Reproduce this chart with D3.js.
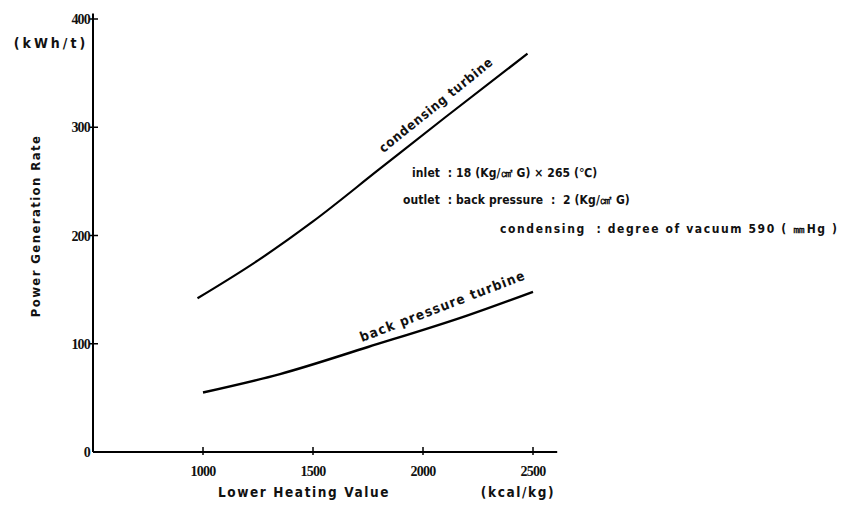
<!DOCTYPE html>
<html><head><meta charset="utf-8">
<script src="https://cdn.jsdelivr.net/npm/d3@7"></script>
<style>
body{margin:0;background:#fff;}
svg text{font-family:"DejaVu Sans Condensed","DejaVu Sans",sans-serif;font-stretch:condensed;font-weight:bold;fill:#111;white-space:pre;}
.num{font-family:"Liberation Serif","DejaVu Serif",serif;font-weight:bold;}
</style></head>
<body><svg id="c" width="844" height="506"></svg>
<script>
const xTicks = [1000, 1500, 2000, 2500];
const yTicks = [0, 100, 200, 300, 400];
const condensingX = [975, 1250, 1500, 1800, 2100, 2475];
const condensingY = [142, 177, 213, 261, 309, 368];
const backX = [1000, 1350, 1750, 2200, 2500];
const backY = [55, 72, 97, 126, 148];
const notes = [
  "inlet  : 18 (Kg/㎠ G) × 265 (℃)",
  "outlet  : back pressure  :  2 (Kg/㎠ G)",
  "condensing  : degree of vacuum 590 ( ㎜Hg )"
];

const svg = d3.select("#c");
const x = d3.scaleLinear().domain([500, 2600]).range([93, 555]);
const y = d3.scaleLinear().domain([0, 400]).range([452, 19]);

// axes
svg.append("line").attr("x1", x(500)).attr("x2", x(2610)).attr("y1", y(0)).attr("y2", y(0))
  .attr("stroke", "#000").attr("stroke-width", 2);
svg.append("line").attr("x1", x(500)).attr("x2", x(500)).attr("y1", y(0)).attr("y2", y(405))
  .attr("stroke", "#000").attr("stroke-width", 2);

// y ticks
svg.selectAll(".yt").data(yTicks.filter(d => d > 0)).enter().append("line")
  .attr("x1", x(500) - 4).attr("x2", x(500) + 5).attr("y1", d => y(d)).attr("y2", d => y(d))
  .attr("stroke", "#000").attr("stroke-width", 1.5);
svg.selectAll(".yl").data(yTicks).enter().append("text").attr("class", "num")
  .attr("x", x(500) - 3).attr("y", d => y(d) + 5).attr("text-anchor", "end")
  .attr("font-size", 14).attr("letter-spacing", -0.8).text(d => d);

// x ticks
svg.selectAll(".xt").data(xTicks).enter().append("line")
  .attr("x1", d => x(d)).attr("x2", d => x(d)).attr("y1", y(0) - 5).attr("y2", y(0) + 3)
  .attr("stroke", "#000").attr("stroke-width", 1.5);
svg.selectAll(".xl").data(xTicks).enter().append("text").attr("class", "num")
  .attr("x", d => x(d)).attr("y", y(0) + 24).attr("text-anchor", "middle")
  .attr("font-size", 14).attr("letter-spacing", -0.8).text(d => d);

// axis titles
svg.append("text").attr("x", 51).attr("y", 48).attr("text-anchor", "middle")
  .attr("font-size", 14).attr("letter-spacing", 3).text("(kWh/t)");
svg.append("text").attr("transform", "translate(40,226) rotate(-90)").attr("text-anchor", "middle")
  .attr("font-size", 13).attr("letter-spacing", 1.4).text("Power Generation Rate");
svg.append("text").attr("x", 304).attr("y", 497).attr("text-anchor", "middle")
  .attr("font-size", 13.5).attr("letter-spacing", 1.6).text("Lower Heating Value");
svg.append("text").attr("x", 518).attr("y", 497).attr("text-anchor", "middle")
  .attr("font-size", 13.5).attr("letter-spacing", 1.6).text("(kcal/kg)");

// curves
const line = d3.line().x(d => x(d[0])).y(d => y(d[1])).curve(d3.curveMonotoneX);
svg.append("path").datum(d3.zip(condensingX, condensingY)).attr("d", line)
  .attr("fill", "none").attr("stroke", "#000").attr("stroke-width", 2.2);
svg.append("path").datum(d3.zip(backX, backY)).attr("d", line)
  .attr("fill", "none").attr("stroke", "#000").attr("stroke-width", 2.4);

// curve labels
svg.append("text").attr("transform", `translate(${x(1820)},${y(276)}) rotate(-39)`)
  .attr("font-size", 13).attr("letter-spacing", 0.8).text("condensing turbine");
svg.append("text").attr("transform", `translate(${x(1723)},${y(101.6)}) rotate(-21)`)
  .attr("font-size", 13.5).attr("letter-spacing", 1.2).text("back pressure turbine");

// notes
const noteX = [412, 403, 500];
const noteY = [177, 204, 233];
const noteSpacing = [0.1, 0.1, 1.6];
svg.selectAll(".note").data(notes).enter().append("text")
  .attr("x", (d, i) => noteX[i]).attr("y", (d, i) => noteY[i])
  .attr("font-size", 12).attr("letter-spacing", (d, i) => noteSpacing[i]).text(d => d);
</script></body></html>
